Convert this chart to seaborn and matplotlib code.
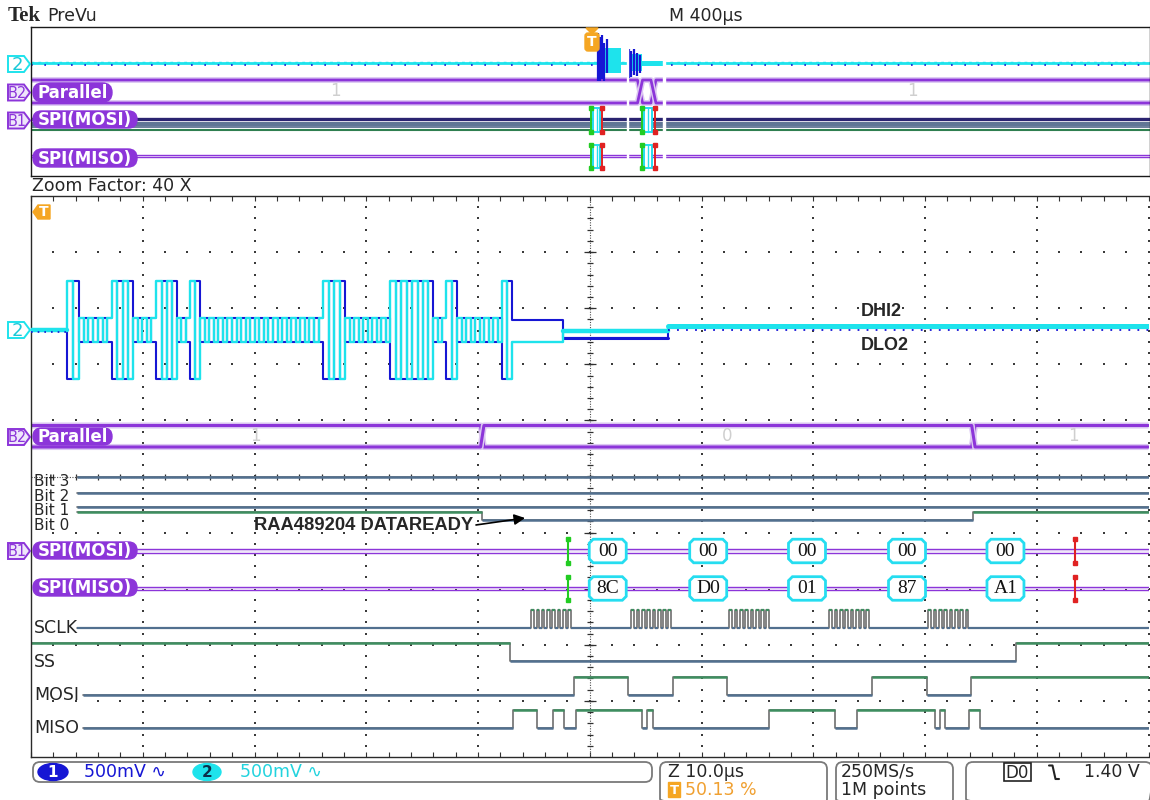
import numpy as np
import pandas as pd
import matplotlib
matplotlib.use("Agg")
import matplotlib.pyplot as plt
import seaborn as sns
from matplotlib.patches import FancyBboxPatch, Polygon, Rectangle, Ellipse

# ============================ DATA =====================================
# --- zoom window (Z 10.0 us/div), time in us relative to screen centre
zoom_t0, zoom_t1 = -50.0, 50.0

# Ch1 / Ch2 differential pair (cyan = DHI2, blue = DLO2), levels in div
ana_idle_end = -46.78
ana_big_groups = [
    [-46.78, -46.24, -45.70],
    [-42.75, -42.26, -41.77, -41.32, -40.87],
    [-38.81, -38.32, -37.83, -37.38, -36.93],
    [-35.77, -35.32, -34.87],
    [-23.86, -23.37, -22.87, -22.38, -21.89],
    [-17.86, -17.37, -16.88, -16.39, -15.89, -15.40, -14.91, -14.46, -14.01],
    [-12.85, -12.35, -11.86],
    [-7.83, -7.38, -6.94],
]
ana_small_counts = [7, 5, 3, 27, 10, 3, 10]     # small-level toggles between bursts
ana_tail_t = [-6.94, -2.38, 7.03, 50.0]
ana_tail_cyan = [-0.21, -0.02, 0.07]
ana_tail_blue = [0.17, -0.14, 0.035]
ana_big_level = 0.87
ana_small_level = 0.214

# B2 parallel bus / digital bits
parallel_edges = [-9.62, 34.33]
parallel_values = ["1", "0", "1"]
parallel_value_t = [-29.96, 12.31, 43.29]
bit_names = ["Bit 3", "Bit 2", "Bit 1", "Bit 0"]
bit0_edges = [-9.62, 34.33]            # Bit 0 starts high

# SPI lines
sclk_burst_t = [-5.24, 3.72, 12.49, 21.44, 30.30]
sclk_pulses_per_burst = 8
sclk_period = 0.475
ss_edges = [-7.12, 38.18]              # starts high
mosi_edges = [-1.39, 3.45, 7.48, 12.31, 25.29, 30.21, 34.15]   # starts low
miso_edges = [-6.85, -4.75, -3.30, -2.28, -1.25, 4.70, 5.15, 5.65,
              16.04, 21.98, 23.95, 30.89, 31.34, 31.83, 33.93, 34.96]  # starts low
spi_frame_t = [1.61, 10.60, 19.44, 28.39, 37.20]
spi_mosi_bytes = ["00", "00", "00", "00", "00"]
spi_miso_bytes = ["8C", "D0", "01", "87", "A1"]
spi_start_t, spi_end_t = -1.95, 43.38

# --- overview record (M 400 us/div)
ov_t0, ov_t1 = -2000.0, 2000.0
ov_parallel_edges = [177.0, 225.0]
ov_parallel_value_t = [-913.0, 1152.0]
ov_parallel_values = ["1", "1"]
ov_frame_start = [2.9, 184.0]
ov_frame_box = [(8.9, 35.7), (191.2, 221.6)]
ov_frame_end = [41.1, 228.8]
ov_gap_t = [132.3, 262.7]
ov_blue_spike_t = [26.8, 34.0, 41.1, 50.0, 59.0, 137.6, 144.8, 155.5, 166.2, 176.9]
ov_blue_spike_up = [30, 26, 28, 20, 24, 14, 12, 14, 10, 8]
ov_blue_spike_dn = [18, 18, 16, 18, 10, 15, 14, 12, 13, 10]
ov_cyan_band_t = [(26.8, 109.0), (134.0, 184.0), (184.0, 259.0)]
ov_cyan_band_up = [15, 9, 2.5]
ov_cyan_band_dn = [10, 8, 2.5]

# ============================ STYLE ====================================
sns.set_style("white")
plt.rcParams["font.family"] = ["DejaVu Sans"]

CYAN = "#1EE3EC"
BLUE = "#1616D4"
PURPLE = "#8C35D9"
LAVENDER = "#DCC8F2"
ORANGE = "#F5A623"
LOW_C = "#52708F"
HIGH_C = "#3E8E60"
EDGE_C = "#6E6E6E"
GRID_C = "#3A3A3A"

W, H = 1150, 800
fig = plt.figure(figsize=(W / 100, H / 100), dpi=100)


def px_axes(x0, y0, x1, y1):
    return fig.add_axes([x0 / W, 1 - y1 / H, (x1 - x0) / W, (y1 - y0) / H])


ax_ov = px_axes(31, 27, 1150, 176)
ax_main = px_axes(31, 196, 1148.5, 757)
ax_fg = fig.add_axes([0, 0, 1, 1], facecolor="none")
ax_fg.set_xlim(0, W)
ax_fg.set_ylim(H, 0)
ax_fg.axis("off")


def step_xy(t0, t1, edges, start_high, lo, hi):
    xs, ys = [t0], [hi if start_high else lo]
    level = start_high
    for e in edges:
        xs += [e, e]
        ys += [hi if level else lo, lo if level else hi]
        level = not level
    xs.append(t1)
    ys.append(hi if level else lo)
    return np.array(xs), np.array(ys)


def draw_digital(ax, t0, t1, edges, start_high, lo, hi, lw=1.8):
    x, y = step_xy(t0, t1, edges, start_high, lo, hi)
    sns.lineplot(x=x, y=y, ax=ax, sort=False, estimator=None, color=EDGE_C, lw=1.2)
    bounds = [t0] + list(edges) + [t1]
    level = start_high
    for a, b in zip(bounds[:-1], bounds[1:]):
        yy = hi if level else lo
        ax.plot([a, b], [yy, yy], color=HIGH_C if level else LOW_C, lw=lw,
                solid_capstyle="butt")
        level = not level


def draw_bus(ax, t0, t1, edges, y_top, y_bot, xw, lw=2.2):
    pa_x, pa_y, pb_x, pb_y = [t0], [y_top], [t0], [y_bot]
    top_a = True
    for e in edges:
        ya, yb = (y_top, y_bot) if top_a else (y_bot, y_top)
        pa_x += [e - xw, e + xw]; pa_y += [ya, yb]
        pb_x += [e - xw, e + xw]; pb_y += [yb, ya]
        top_a = not top_a
    pa_x.append(t1); pa_y.append(pa_y[-1])
    pb_x.append(t1); pb_y.append(pb_y[-1])
    for px_, py_ in ((pa_x, pa_y), (pb_x, pb_y)):
        ax.plot(px_, py_, color=LAVENDER, lw=lw + 2.2, solid_capstyle="butt")
        sns.lineplot(x=np.array(px_), y=np.array(py_), ax=ax, sort=False,
                     estimator=None, color=PURPLE, lw=lw)


# ============================ MAIN PANEL ===============================
ax = ax_main
ax.set_xlim(zoom_t0, zoom_t1)
ax.set_ylim(0, 10)

# graticule
major_t = [-40, -30, -20, -10, 10, 20, 30, 40, 50]
minor_y = np.arange(0.2, 10.0, 0.2)
for t in major_t:
    ax.scatter(np.full(minor_y.size, t), minor_y, s=1.6, marker="s", c=GRID_C,
               linewidths=0, zorder=1, clip_on=False)
minor_t = np.arange(-48, 50, 2)
for yv in [1, 2, 3, 4, 6, 7, 8, 9]:
    ax.scatter(minor_t, np.full(minor_t.size, yv), s=1.6, marker="s", c=GRID_C,
               linewidths=0, zorder=1)
ax.axvline(0, color="#505050", lw=0.8, ls=(0, (1, 1.3)), zorder=1)
ax.plot(np.zeros(minor_y.size), minor_y, ls="none", marker="_", ms=4.5, mew=0.9,
        color="#303030", zorder=1)
ax.plot(np.zeros(9), np.arange(1, 10), ls="none", marker="_", ms=9, mew=0.9,
        color="#303030", zorder=1)
ax.axhline(5, color="#505050", lw=0.8, ls=(0, (1, 1.3)), zorder=1)
ax.plot(minor_t, np.full(minor_t.size, 5.0), ls="none", marker="|", ms=4.5, mew=0.9,
        color="#303030", zorder=1)

# analog differential pair
C2 = 7.611
cx, cyv, byv = [], [], []


def add_seg(a, b, lc, lb):
    cx.extend([a, b]); cyv.extend([C2 + lc] * 2); byv.extend([C2 + lb] * 2)


add_seg(zoom_t0, ana_idle_end, 0.0, 0.0)
for gi, g in enumerate(ana_big_groups):
    if gi > 0:
        a = ana_big_groups[gi - 1][-1]
        n = ana_small_counts[gi - 1]
        bnd = np.linspace(a, g[0], n + 1)
        for k in range(n):
            lv = ana_small_level * (1 if k % 2 == 0 else -1)
            add_seg(bnd[k], bnd[k + 1], lv, -lv)
    for k in range(len(g) - 1):
        lv = ana_big_level * (1 if k % 2 == 0 else -1)
        add_seg(g[k], g[k + 1], lv, -lv)
for k in range(len(ana_tail_cyan)):
    add_seg(ana_tail_t[k], ana_tail_t[k + 1], ana_tail_cyan[k], ana_tail_blue[k])

ana_df = pd.DataFrame({"t": cx, "DHI2": cyv, "DLO2": byv})
sns.lineplot(data=ana_df, x="t", y="DLO2", ax=ax, sort=False, estimator=None,
             color=BLUE, lw=1.5, zorder=3)
sns.lineplot(data=ana_df, x="t", y="DHI2", ax=ax, sort=False, estimator=None,
             color=CYAN, lw=1.7, zorder=4)
# thicker noisy bands where the pair is quiet
ax.plot([zoom_t0, ana_idle_end], [C2, C2], color=CYAN, lw=3.2, zorder=4)
ax.plot([zoom_t0, ana_idle_end], [C2 - 0.03, C2 - 0.03], color=BLUE, lw=1.2,
        ls=(0, (1, 3)), zorder=5)
ax.plot(ana_tail_t[1:3], [C2 + ana_tail_blue[1]] * 2, color=BLUE, lw=2.2, zorder=3)
ax.plot(ana_tail_t[1:3], [C2 + ana_tail_cyan[1]] * 2, color=CYAN, lw=3.2, zorder=4)
ax.plot(ana_tail_t[2:4], [C2 + ana_tail_cyan[2]] * 2, color=CYAN, lw=3.6, zorder=4)
ax.plot(ana_tail_t[2:4], [C2 + ana_tail_blue[2] - 0.03] * 2, color=BLUE, lw=1.3,
        ls=(0, (1, 4)), zorder=5)

# parallel bus
PB_TOP, PB_BOT = 5.909, 5.526
draw_bus(ax, zoom_t0, zoom_t1, parallel_edges, PB_TOP, PB_BOT, 0.15)
for t, v in zip(parallel_value_t, parallel_values):
    ax.text(t, (PB_TOP + PB_BOT) / 2, v, color="#CFCFCF", fontsize=12,
            ha="center", va="center", zorder=6)

# bits
BIT_Y = [4.991, 4.706, 4.456]
T_LBL = -45.88
for yv in BIT_Y:
    draw_digital(ax, T_LBL, zoom_t1, [], False, yv, yv)
draw_digital(ax, T_LBL, zoom_t1, bit0_edges, True, 4.216, 4.367)

# SPI decoded buses
MOSI_BUS, MISO_BUS = 3.672, 3.004
for yb in (MOSI_BUS, MISO_BUS):
    ax.plot([-42.7, zoom_t1], [yb, yb], color="#EEE6F8", lw=1.4, zorder=5)
    for d in (-0.027, 0.027):
        ax.plot([-42.7, zoom_t1], [yb + d, yb + d], color=PURPLE, lw=1.0, zorder=5)
BOX_HW, BOX_HH = 1.655, 0.21
for t, mo, mi in zip(spi_frame_t, spi_mosi_bytes, spi_miso_bytes):
    for yb, txt in ((MOSI_BUS, mo), (MISO_BUS, mi)):
        cxl, cyl = 0.35, 0.07
        pts = [(t - BOX_HW + cxl, yb + BOX_HH), (t + BOX_HW - cxl, yb + BOX_HH),
               (t + BOX_HW, yb + BOX_HH - cyl), (t + BOX_HW, yb - BOX_HH + cyl),
               (t + BOX_HW - cxl, yb - BOX_HH), (t - BOX_HW + cxl, yb - BOX_HH),
               (t - BOX_HW, yb - BOX_HH + cyl), (t - BOX_HW, yb + BOX_HH - cyl)]
        ax.add_patch(Polygon(pts, closed=True, fc="white", ec="#25DDF0", lw=2.0,
                             zorder=7))
        ax.text(t, yb, txt, fontsize=14, ha="center", va="center", zorder=8,
                family=["Liberation Serif", "DejaVu Serif"], color="#111111")
for t, col in ((spi_start_t, "#22CC22"), (spi_end_t, "#E02222")):
    for yb in (MOSI_BUS, MISO_BUS):
        ax.plot([t, t], [yb - 0.21, yb + 0.21], color=col, lw=1.5, zorder=7)
        ax.plot([t, t], [yb - 0.21, yb + 0.21], ls="none", marker="s", ms=3,
                color=col, zorder=7)

# SCLK / SS / MOSI / MISO
sclk_edges = []
for s in sclk_burst_t:
    for p in range(sclk_pulses_per_burst):
        sclk_edges += [s + p * sclk_period, s + p * sclk_period + sclk_period / 2]
draw_digital(ax, T_LBL, zoom_t1, sclk_edges, False, 2.299, 2.629, lw=1.6)
draw_digital(ax, zoom_t0, zoom_t1, ss_edges, True, 1.711, 2.032)
draw_digital(ax, -45.35, zoom_t1, mosi_edges, False, 1.114, 1.426)
draw_digital(ax, -45.35, zoom_t1, miso_edges, False, 0.517, 0.829)

ax.annotate("", xy=(-5.79, 4.26), xytext=(-10.18, 4.136),
            arrowprops=dict(arrowstyle="-|>", color="black", lw=1.2,
                            mutation_scale=16, shrinkA=0, shrinkB=0), zorder=9)

ax.set_xticks(np.arange(-50, 51, 2))
ax.set_yticks([])
ax.tick_params(axis="x", direction="in", length=3.5, width=0.8, color="#333333",
               top=True, bottom=True, labelbottom=False)
ax.set_xlabel("")
ax.set_ylabel("")
for side in ("left", "top", "bottom"):
    ax.spines[side].set_color("#2A2A2A")
    ax.spines[side].set_linewidth(1.0)
ax.spines["right"].set_visible(False)

# ============================ OVERVIEW =================================
ao = ax_ov
ao.set_xlim(ov_t0, ov_t1)
ao.set_ylim(149, 0)
OV_CH2 = 36.0
ao.plot([ov_t0, ov_t1], [OV_CH2, OV_CH2], color=CYAN, lw=2.0)
ao.plot([ov_t0, ov_t1], [OV_CH2 - 1.3, OV_CH2 - 1.3], color=CYAN, lw=1.0, ls=(0, (2, 3)))
ao.plot([ov_t0, ov_t1], [OV_CH2 + 1.6, OV_CH2 + 1.6], color=BLUE, lw=1.2, ls=(0, (1, 7)))
for (a, b), up, dn in zip(ov_cyan_band_t, ov_cyan_band_up, ov_cyan_band_dn):
    ao.fill_between([a, b], OV_CH2 - up, OV_CH2 + dn, color=CYAN, lw=0, zorder=3)
ao.vlines(ov_blue_spike_t, OV_CH2 - np.array(ov_blue_spike_up),
          OV_CH2 + np.array(ov_blue_spike_dn), color=BLUE, lw=1.6, zorder=4)

draw_bus(ao, ov_t0, ov_t1, ov_parallel_edges, 53.0, 76.0, 9.0, lw=2.0)
for t, v in zip(ov_parallel_value_t, ov_parallel_values):
    ao.text(t, 64.5, v, color="#CFCFCF", fontsize=12, ha="center", va="center")

for yv, col, lw in ((92.3, "#2A2370", 2.4), (95.7, "#5C7393", 1.4), (98.0, "#5C7393", 1.4),
                    (100.2, "#6A7E9C", 1.4), (102.5, "#2F7F50", 1.5)):
    ao.plot([ov_t0, ov_t1], [yv, yv], color=col, lw=lw)
for yv in (128.0, 130.3):
    ao.plot([ov_t0, ov_t1], [yv, yv], color=PURPLE, lw=1.0)

for ts, (b0, b1), te in zip(ov_frame_start, ov_frame_box, ov_frame_end):
    for y0, y1 in ((81.0, 105.0), (118.0, 141.0)):
        ao.add_patch(Rectangle((b0, y0), b1 - b0, y1 - y0, fc="white", ec="#25DDF0",
                               lw=1.4, zorder=5))
        ao.plot([(b0 + b1) / 2] * 2, [y0, y1], color="#25DDF0", lw=1.0, zorder=6)
        for t, col in ((ts, "#22CC22"), (te, "#E02222")):
            ao.plot([t, t], [y0, y1], color=col, lw=1.4, zorder=6)
            ao.plot([t, t], [y0, y1], ls="none", marker="s", ms=2.6, color=col, zorder=6)
for t in ov_gap_t:
    ao.axvspan(t - 3.5, t + 3.5, ymin=0.03, ymax=0.86, color="white", zorder=7)

ao.set_xticks([])
ao.set_yticks([])
ao.set_xlabel("")
ao.set_ylabel("")
for side in ao.spines:
    ao.spines[side].set_color("#1A1A1A")
    ao.spines[side].set_linewidth(1.0)

# ============================ LABELS / DECORATIONS =====================
f = ax_fg


def pill(x0, y0, x1, y1, text):
    f.add_patch(FancyBboxPatch((x0, y0), x1 - x0, y1 - y0,
                               boxstyle=f"round,pad=0,rounding_size={(y1 - y0) / 2}",
                               fc=PURPLE, ec=PURPLE, lw=1))
    f.text((x0 + x1) / 2, (y0 + y1) / 2 + 0.5, text, color="white", fontsize=12,
           fontweight="bold", ha="center", va="center")


def marker(x0, y0, x1, y1, text, ec, fc, tc, fs=12):
    pts = [(x0, y0), (x1 - 6, y0), (x1, (y0 + y1) / 2), (x1 - 6, y1), (x0, y1)]
    f.add_patch(Polygon(pts, closed=True, fc=fc, ec=ec, lw=1.4))
    f.text((x0 + x1 - 6) / 2 + 1, (y0 + y1) / 2 + 0.5, text, color=tc, fontsize=fs,
           ha="center", va="center")


for (y0, y1, txt) in ((83, 102, "Parallel"), (111, 128, "SPI(MOSI)"),
                      (149, 167, "SPI(MISO)"), (428, 445, "Parallel"),
                      (542, 559, "SPI(MOSI)"), (579, 596, "SPI(MISO)")):
    x1 = 112 if txt == "Parallel" else 137
    pill(33, y0, x1, y1, txt)

marker(8, 56, 30, 72, "2", CYAN, "white", "#18C8D8", fs=13)
marker(8, 322, 30, 338, "2", CYAN, "white", "#18C8D8", fs=13)
for yc, txt in ((92.5, "B2"), (120.5, "B1"), (437, "B2"), (551, "B1")):
    marker(8, yc - 8, 30, yc + 8, txt, PURPLE, "#EFE6FB", PURPLE, fs=10.5)

# trigger markers
f.add_patch(Polygon([(586, 28), (598, 28), (592, 34)], closed=True, fc=ORANGE, ec=ORANGE))
f.add_patch(FancyBboxPatch((585, 33), 14, 18, boxstyle="round,pad=0,rounding_size=3",
                           fc=ORANGE, ec=ORANGE))
f.text(592, 42.5, "T", color="white", fontsize=10, fontweight="bold", ha="center", va="center")
f.add_patch(Polygon([(33, 212), (38, 205), (50, 205), (50, 219), (38, 219)], closed=True,
                    fc=ORANGE, ec=ORANGE))
f.text(43.5, 212.5, "T", color="white", fontsize=10, fontweight="bold", ha="center", va="center")

# header texts
f.text(8, 16, "Tek", fontsize=15, fontweight="bold", va="center",
       family=["Liberation Serif", "DejaVu Serif"])
f.text(47, 16, "PreVu", fontsize=12.5, va="center")
f.text(669, 16, "M 400µs", fontsize=12.5, va="center")
f.text(32, 186, "Zoom Factor: 40 X", fontsize=12.5, va="center")

# digital channel names (stacked tightly as on the scope)
for yc, txt in zip((482, 496.5, 510.5, 525), bit_names):
    f.text(34, yc, txt, fontsize=11, va="center")
for yc, txt in ((628, "SCLK"), (662, "SS"), (695, "MOSI"), (728, "MISO")):
    f.text(34, yc, txt, fontsize=12.5, va="center")

f.text(254, 526, "RAA489204 DATAREADY", fontsize=13.2, fontweight="bold", va="center",
       family=["Liberation Sans", "DejaVu Sans"])
f.text(861, 311, "DHI2", fontsize=13, fontweight="bold", va="center",
       family=["Liberation Sans", "DejaVu Sans"])
f.text(861, 346, "DLO2", fontsize=13, fontweight="bold", va="center",
       family=["Liberation Sans", "DejaVu Sans"])

# bottom status bar
for x0, x1, y1 in ((33, 652, 782), (660, 827, 806), (836, 953, 806), (966, 1152, 806)):
    f.add_patch(FancyBboxPatch((x0, 762), x1 - x0, y1 - 762,
                               boxstyle="round,pad=0,rounding_size=7",
                               fc="none", ec="#7A7A7A", lw=1.3, clip_on=False))
f.add_patch(Ellipse((53, 772), 30, 17, fc=BLUE, ec=BLUE))
f.text(53, 772.5, "1", color="white", fontsize=11, fontweight="bold", ha="center", va="center")
f.text(84, 772, "500mV ∿", color=BLUE, fontsize=12.5, va="center")
f.add_patch(Ellipse((207, 772), 28, 17, fc=CYAN, ec=CYAN))
f.text(207, 772.5, "2", color="#0B2F4A", fontsize=11, fontweight="bold", ha="center", va="center")
f.text(240, 772, "500mV ∿", color="#22D3DE", fontsize=12.5, va="center")
f.text(668, 772, "Z 10.0µs", fontsize=12.5, va="center")
f.add_patch(Rectangle((668, 782), 12, 15, fc=ORANGE, ec=ORANGE))
f.text(674, 790, "T", color="white", fontsize=9.5, fontweight="bold", ha="center", va="center")
f.text(685, 790, "50.13 %", color="#F0A030", fontsize=12.5, va="center")
f.text(841, 772, "250MS/s", fontsize=12.5, va="center")
f.text(841, 790, "1M points", fontsize=12.5, va="center")
f.add_patch(Rectangle((1004, 763), 27, 18, fc="none", ec="#222222", lw=1.2))
f.text(1017.5, 772.5, "D0", fontsize=12, ha="center", va="center")
f.plot([1049, 1052.5, 1055.5, 1059], [765.5, 765.5, 779, 779], color="#222222", lw=1.5)
f.text(1140, 772, "1.40 V", fontsize=12.5, ha="right", va="center")

fig.savefig("out.png", dpi=100, facecolor="white")
